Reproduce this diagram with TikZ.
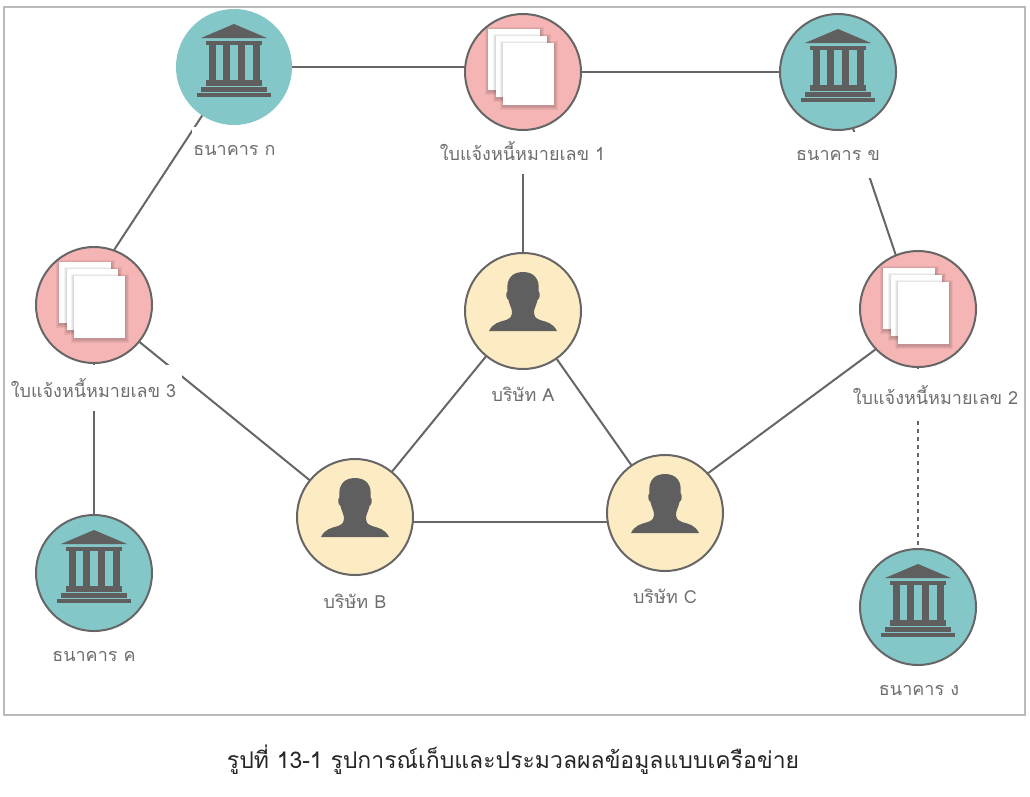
\documentclass[tikz,border=0pt]{standalone}
\usepackage{fontspec}
\setmainfont[Script=Thai]{Loma}
\definecolor{teal1}{HTML}{84C7C8}
\definecolor{pink1}{HTML}{F5B5B5}
\definecolor{cream1}{HTML}{FDEBC3}
\definecolor{edge1}{HTML}{666666}
\definecolor{icon1}{HTML}{5F5F5F}
\definecolor{text1}{HTML}{6E6E6E}
\newcommand{\softsheet}[4]{%
  \foreach \g in {4,3,2,1}{%
    \fill[black,opacity=.05] (#1-\g+.5,#2-\g+2) rectangle (#3+\g-.5,#4+\g+1);
  }%
  \fill[white] (#1,#2) rectangle (#3,#4);
}
\tikzset{
  hub/.style={circle,minimum size=116pt,inner sep=0pt,draw=edge1,line width=2pt},
  bank/.style={hub,fill=teal1},
  notice/.style={hub,fill=pink1},
  firm/.style={hub,fill=cream1},
  link/.style={draw=edge1,line width=2pt},
  cap1/.style={font=\fontsize{18}{20}\selectfont,text=text1,inner sep=1pt},
  tallcap/.style={cap1,fill=white,minimum height=46pt},
  bankicon/.pic={
    \fill[icon1] (0,-43) -- (33,-29) -- (-33,-29) -- cycle;
    \fill[icon1] (-28,-26) rectangle (28,-22);
    \fill[icon1] (-25.5,-23) rectangle (-18.5,13);
    \fill[icon1] (-11.5,-23) rectangle (-4.5,13);
    \fill[icon1] (3.5,-23) rectangle (10.5,13);
    \fill[icon1] (18.5,-23) rectangle (25.5,13);
    \fill[icon1] (-28,13) rectangle (28,19);
    \fill[icon1] (-33,20) rectangle (33,24.5);
    \fill[icon1] (-37,25.5) rectangle (37,30);
  },
  docicon/.pic={
    \softsheet{-35}{-43}{17}{18}
    \softsheet{-27}{-36}{24}{25}
    \softsheet{-20}{-29}{31}{33}
  },
  personicon/.pic={
    \fill[icon1] (-34,20) .. controls (-30,12) and (-24,11) .. (-17,9)
      .. controls (-12,7) and (-11,5) .. (-11,0)
      .. controls (-12,-4) and (-14,-8) .. (-14.5,-11)
      .. controls (-17,-12) and (-17.5,-18) .. (-15.5,-20)
      .. controls (-17,-32) and (-11,-39) .. (0,-39)
      .. controls (11,-39) and (17,-32) .. (15.5,-20)
      .. controls (17.5,-18) and (17,-12) .. (14.5,-11)
      .. controls (14,-8) and (12,-4) .. (11,0)
      .. controls (11,5) and (12,7) .. (17,9)
      .. controls (24,11) and (30,12) .. (34,20) -- cycle;
  },
}
\begin{document}
\begin{tikzpicture}[x=1pt,y=-1pt]
\useasboundingbox (0,0) rectangle (1030,796);
\fill[white] (0,0) rectangle (1030,796);
\draw[draw=black!27,line width=2pt] (4,7) rectangle (1025,715);
% node positions
\coordinate (pbka) at (234,67);
\coordinate (pn1) at (523,72);
\coordinate (pbkb) at (838,72);
\coordinate (pn3) at (94,305);
\coordinate (pca) at (523,311);
\coordinate (pn2) at (918,309);
\coordinate (pcb) at (355,517);
\coordinate (pcc) at (665,513);
\coordinate (pbkc) at (94,573);
\coordinate (pbkd) at (918,607);
% off-centre line ends
\coordinate (an1) at (523,67);
\coordinate (an3) at (78,305);
\coordinate (abkb) at (834,72);
\coordinate (an2) at (914,309);
\coordinate (acb) at (355,522);
\coordinate (acc) at (665,522);
\coordinate (bcc) at (665,505);
\coordinate (bn2) at (918,318);
\coordinate (dn2) at (918,311);
% connectors
\draw[link] (pbka) -- (an1);
\draw[link] (pn1) -- (pbkb);
\draw[link] (pbka) -- (an3);
\draw[link] (pn1) -- (pca);
\draw[link] (abkb) -- (an2);
\draw[link] (pn3) -- (pcb);
\draw[link] (pn3) -- (pbkc);
\draw[link] (pca) -- (pcb);
\draw[link] (pca) -- (pcc);
\draw[link] (acb) -- (acc);
\draw[link] (bcc) -- (bn2);
\draw[link,dash pattern=on 4pt off 4pt] (pn2) -- (pbkd);
% labels
\node[tallcap] (la) at (234.5,150) {ธนาคาร ก};
\node[tallcap] (l1) at (522.5,151) {ใบแจ้งหนี้หมายเลข 1};
\node[tallcap] (lb) at (838,155) {ธนาคาร ข};
\node[tallcap,inner xsep=6pt] (l3) at (93.5,388) {ใบแจ้งหนี้หมายเลข 3};
\node[cap1] (lca) at (523,394) {บริษัท A};
\node[tallcap] (l2) at (935.5,395) {ใบแจ้งหนี้หมายเลข 2};
\node[cap1] (lcb) at (355,601) {บริษัท B};
\node[cap1] (lcc) at (665,596) {บริษัท C};
\node[cap1] (lc) at (94,656) {ธนาคาร ค};
\node[cap1] (ld) at (919,690) {ธนาคาร ง};
\node[font=\fontsize{23}{26}\selectfont,text=black!85,inner sep=0pt] (cap) at (513,760) {รูปที่ 13-1 รูปการณ์เก็บและประมวลผลข้อมูลแบบเครือข่าย};
% hubs
\node[bank,draw=none] (bka) at (pbka) {};
\node[notice] (n1) at (pn1) {};
\node[bank] (bkb) at (pbkb) {};
\node[notice] (n3) at (pn3) {};
\node[firm] (ca) at (pca) {};
\node[notice] (n2) at (pn2) {};
\node[firm] (cb) at (pcb) {};
\node[firm] (cc) at (pcc) {};
\node[bank] (bkc) at (pbkc) {};
\node[bank] (bkd) at (pbkd) {};
% icons
\pic at (bka) {bankicon};
\pic at (bkb) {bankicon};
\pic at (bkc) {bankicon};
\pic at (bkd) {bankicon};
\pic at (n1) {docicon};
\pic at (dn2) {docicon};
\pic at (n3) {docicon};
\pic at (ca) {personicon};
\pic at (cb) {personicon};
\pic at (cc) {personicon};
\end{tikzpicture}
\end{document}
